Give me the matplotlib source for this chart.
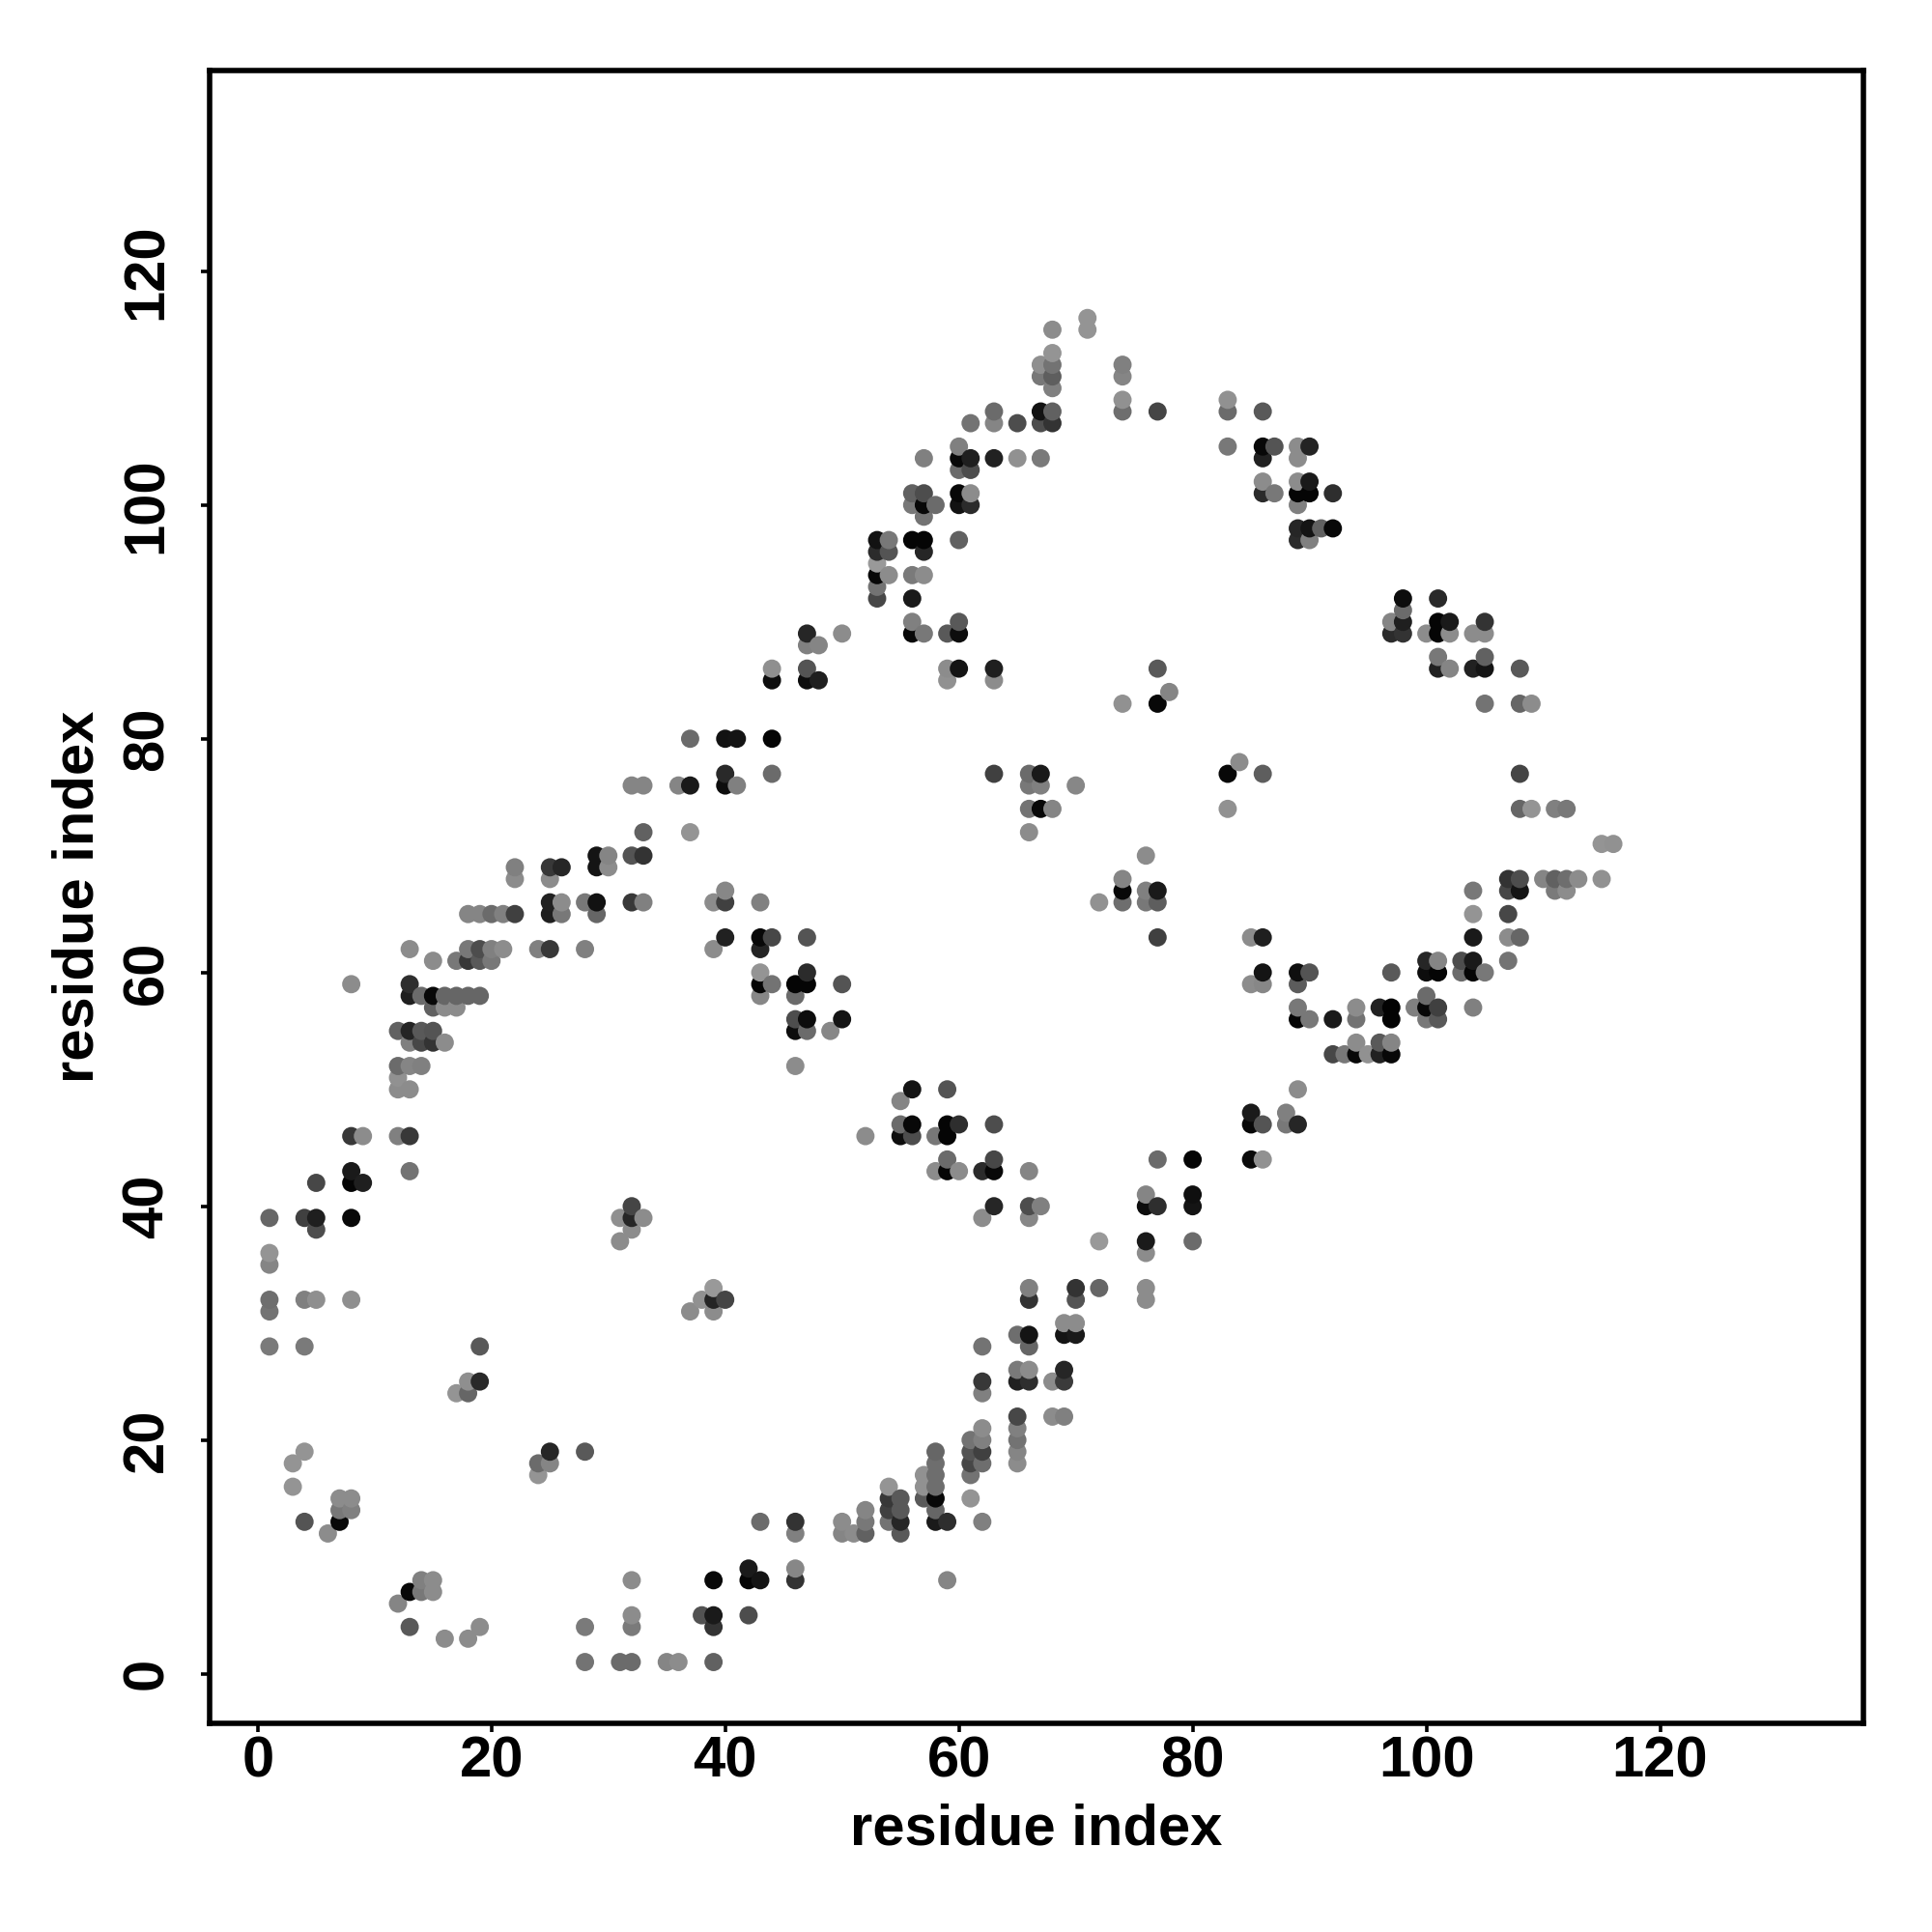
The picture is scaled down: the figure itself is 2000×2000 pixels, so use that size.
import numpy as np
import matplotlib
matplotlib.use("Agg")
import matplotlib.pyplot as plt

plt.rcParams['font.family'] = ['Liberation Sans', 'DejaVu Sans']

# one entry per residue on the x axis, the partners and their grey level
col_x = [1, 3, 4, 5, 6, 7, 8, 9, 12, 13, 14, 15, 16, 17, 18, 19, 20, 21, 22, 24, 25, 26, 28, 29, 30,
         31, 32, 33, 35, 36, 37, 38, 39, 40, 41, 42, 43, 44, 46, 47, 48, 49, 50, 51, 52, 53, 54, 55,
         56, 57, 58, 59, 60, 61, 62, 63, 65, 66, 67, 68, 69, 70, 71, 72, 74, 76, 77, 78, 80, 83, 84,
         85, 86, 87, 88, 89, 90, 91, 92, 93, 94, 95, 96, 97, 98, 99, 100, 101, 102, 103, 104, 105,
         107, 108, 109, 110, 111, 112, 113, 115, 116]

col_y = [
    [39, 36, 35, 32, 31, 28], [18, 16], [39, 32, 28, 19, 13], [42, 39, 38, 32], [12], [15, 14, 13],
    [59, 46, 43, 42, 39, 32, 15, 14], [46, 42], [55, 52, 51, 50, 46, 6],
    [62, 59, 58, 55, 54, 52, 50, 46, 43, 7, 4], [58, 55, 54, 52, 8, 7], [61, 58, 57, 55, 54, 8, 7],
    [58, 57, 54, 3], [61, 58, 57, 24], [65, 62, 61, 58, 25, 24, 3], [65, 62, 61, 58, 28, 25, 4],
    [65, 62, 61], [65, 62], [69, 68, 65], [62, 18, 17], [69, 68, 66, 65, 62, 19, 18], [69, 66, 65],
    [66, 62, 19, 4, 1], [70, 69, 66, 65], [70, 69],
    [39, 37, 1], [76, 70, 66, 40, 39, 38, 8, 5, 4, 1], [76, 72, 70, 66, 39], [1], [76, 1],
    [80, 76, 72, 31], [32, 5], [66, 62, 33, 32, 31, 8, 5, 4, 1], [80, 77, 76, 67, 66, 63, 32],
    [80, 76], [9, 8, 5], [66, 63, 62, 60, 59, 58, 13, 8], [86, 85, 80, 77, 63, 59],
    [59, 58, 56, 55, 52, 13, 12, 9, 8], [89, 88, 86, 85, 63, 60, 59, 56, 55], [88, 85], [55],
    [89, 59, 56, 13, 12], [12], [46, 14, 13, 12], [97, 96, 95, 94, 93, 92],
    [97, 96, 94, 16, 15, 14, 13], [49, 47, 46, 15, 14, 13, 12],
    [101, 100, 97, 94, 92, 90, 89, 50, 47, 46], [104, 101, 100, 99, 97, 96, 94, 89, 17, 16, 15],
    [100, 46, 43, 19, 18, 17, 16, 15, 14, 13], [89, 86, 85, 50, 47, 46, 44, 43, 13, 8],
    [105, 104, 103, 101, 100, 97, 90, 89, 86, 47, 43], [107, 104, 103, 101, 100, 20, 19, 18, 17, 15],
    [43, 39, 28, 25, 24, 21, 20, 19, 18, 13], [108, 107, 104, 86, 85, 77, 47, 44, 43, 40],
    [107, 104, 29, 26, 25, 22, 21, 20, 19, 18], [77, 76, 74, 72, 43, 40, 39, 33, 32, 29, 28, 26, 25],
    [112, 111, 108, 107, 104, 77, 76, 74, 40], [115, 113, 112, 111, 110, 108, 107, 74, 25, 22],
    [30, 29, 26, 25, 22], [76, 33, 32, 30, 29], [116, 115], [66, 37, 33],
    [112, 111, 109, 108, 83, 68, 67, 66], [70, 67, 66, 41, 40, 37, 36, 33, 32],
    [108, 86, 83, 67, 66, 63, 44, 40], [84], [44, 41, 40, 37], [109, 108, 105, 77, 74], [78],
    [63, 59, 48, 47, 44], [108, 105, 104, 102, 101, 77, 63, 60, 59, 47, 44], [105, 101], [48, 47],
    [105, 104, 102, 101, 100, 98, 97, 60, 59, 57, 56, 50, 47], [105, 102, 101, 98, 97, 60, 56], [98],
    [101, 98, 56, 53], [53], [57, 56, 54, 53], [53], [57, 54, 53], [90, 89, 60, 57, 56, 54, 53],
    [92, 91, 90, 89], [57], [89, 61, 60, 58, 57, 56], [92, 90, 89, 87, 86, 61, 60, 57, 56],
    [90, 89, 86], [61, 60], [89, 86, 67, 65, 63, 61, 60, 57], [90, 89, 87, 86, 83, 60],
    [68, 67, 65, 63, 61], [86, 83, 77, 74, 68, 67, 63], [83, 74], [68], [74, 68, 67], [74, 68, 67],
    [68], [71, 68], [71],
]

col_grey = [
    [.4, .58, .52, .43, .45, .48], [.58, .58], [.25, .5, .48, .58, .33], [.28, .12, .3, .56], [.55],
    [.55, .47, .03], [.55, .22, .1, .02, .03, .56, .55, .5], [.55, .12], [.38, .42, .57, .55, .5, .52],
    [.55, .18, .12, .14, .5, .52, .55, .22, .45, .03, .35], [.42, .35, .28, .5, .5, .47],
    [.55, .03, .38, .33, .2, .55, .55], [.4, .55, .55, .55], [.47, .4, .55, .58],
    [.52, .47, .22, .4, .56, .4, .55], [.52, .3, .35, .4, .35, .16, .55], [.42, .5, .47], [.5, .55],
    [.5, .55, .25], [.5, .42, .58], [.22, .55, .13, .12, .22, .15, .52], [.15, .55, .47],
    [.47, .5, .35, .48, .45], [.08, .08, .07, .4], [.52, .55],
    [.56, .55, .42], [.52, .33, .22, .27, .15, .55, .55, .55, .48, .42], [.52, .38, .2, .5, .55], [.52],
    [.52, .55], [.42, .1, .58, .55], [.57, .32], [.55, .55, .6, .14, .55, .03, .1, .2, .38],
    [.07, .16, .05, .53, .25, .13, .27], [.08, .5], [.1, .02, .3],
    [.5, .03, .14, .58, .02, .53, .42, .08], [.56, .05, .02, .42, .28, .45],
    [.02, .42, .3, .05, .55, .2, .5, .53, .2], [.15, .5, .33, .05, .33, .17, .02, .05, .42], [.52, .12],
    [.53], [.55, .33, .08, .55, .52], [.55], [.55, .52, .47, .38], [.07, .17, .6, .03, .45, .28],
    [.47, .33, .55, .58, .22, .25, .45], [.52, .42, .05, .35, .35, .15, .35],
    [.38, .47, .02, .48, .1, .5, .03, .08, .03, .3], [.5, .3, .03, .45, .02, .15, .55, .47, .57, .57, .35],
    [.42, .47, .55, .4, .43, .43, .43, .03, .4, .1], [.35, .55, .57, .33, .02, .02, .42, .02, .18, .52],
    [.5, .03, .42, .03, .07, .38, .35, .05, .08, .18, .55], [.45, .12, .3, .55, .17, .45, .33, .28, .45, .58],
    [.17, .55, .45, .22, .5, .55, .5, .25, .43, .5], [.42, .52, .13, .12, .55, .25, .3, .28, .03, .15],
    [.3, .57, .43, .48, .13, .28, .5, .45, .52, .55],
    [.42, .47, .45, .55, .52, .3, .53, .5, .2, .08, .4, .55, .18],
    [.56, .47, .07, .3, .48, .1, .5, .03, .5], [.55, .58, .45, .37, .5, .38, .2, .52, .55, .55],
    [.55, .08, .15, .23, .5], [.53, .2, .33, .55, .1], [.58, .58], [.57, .6, .4],
    [.5, .52, .57, .43, .57, .52, .03, .43], [.55, .5, .47, .52, .05, .1, .55, .55, .55],
    [.27, .35, .03, .1, .37, .25, .42, .18], [.52], [.02, .06, .08, .42], [.57, .42, .47, .03, .57], [.55],
    [.55, .55, .1, .03, .04], [.35, .03, .13, .55, .17, .37, .12, .08, .53, .33, .57], [.33, .47], [.5, .47],
    [.55, .55, .55, .02, .5, .15, .17, .06, .36, .47, .02, .55, .15], [.14, .1, .02, .08, .5, .33, .47], [.38],
    [.18, .03, .1, .28], [.47], [.55, .45, .55, .03], [.57], [.13, .35, .13],
    [.52, .17, .35, .01, .01, .52, .03], [.05, .42, .12, .2], [.5], [.55, .15, .05, .42, .03, .47],
    [.16, .02, .02, .47, .13, .52, .02, .25, .35], [.1, .55, .52], [.3, .42],
    [.55, .13, .47, .58, .1, .1, .02, .5], [.2, .55, .38, .08, .45, .47],
    [.2, .28, .28, .55, .45], [.35, .4, .27, .4, .3, .08, .4], [.55, .58], [.52], [.5, .38, .48],
    [.47, .43, .55], [.55], [.58, .57], [.57],
]

ticks = [0, 20, 40, 60, 80, 100, 120]

xs = np.repeat(col_x, [len(c) for c in col_y])
ys = np.concatenate(col_y)
greys = np.concatenate(col_grey)

# later residues sit on top of earlier ones in the original
order = np.lexsort((ys, xs))
colors = [str(g) for g in greys[order]]

fig = plt.figure(figsize=(20, 20), dpi=100)
ax = fig.add_axes([0.1085, 0.10785, 0.856, 0.8558])
ax.scatter(xs[order], ys[order], s=185, c=colors, linewidths=0)

ax.set_xlim(-4.12, 137.4)
ax.set_ylim(-4.27, 137.2)
ax.set_xticks(ticks)
ax.set_yticks(ticks)
ax.tick_params(axis='x', length=6.5, width=2.6, pad=2, labelsize=43)
ax.tick_params(axis='y', length=6.5, width=2.6, pad=20, labelsize=43)
for lab in ax.get_xticklabels() + ax.get_yticklabels():
    lab.set_fontweight('bold')
for lab in ax.get_yticklabels():
    lab.set_rotation(90)
    lab.set_va('center')
for sp in ax.spines.values():
    sp.set_linewidth(4)

ax.set_xlabel('residue index', fontsize=43, fontweight='bold', labelpad=11)
ax.set_ylabel('residue index', fontsize=43, fontweight='bold', labelpad=12)

fig.savefig('out.png', dpi=100)
